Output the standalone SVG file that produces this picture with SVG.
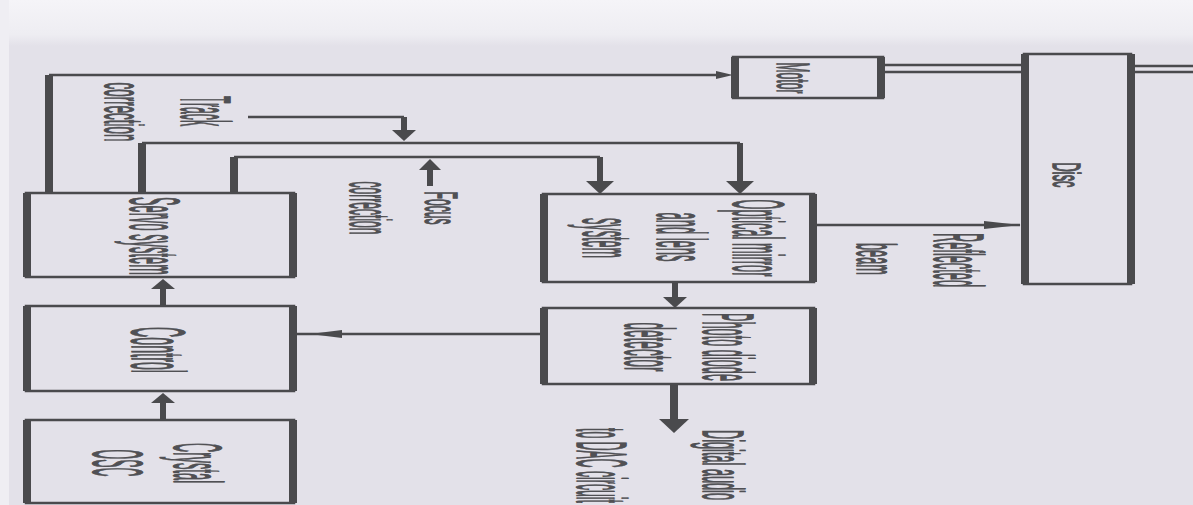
<svg xmlns="http://www.w3.org/2000/svg" width="1193" height="505" viewBox="0 0 1193 505">
<defs>
<linearGradient id="topfade" x1="0" y1="0" x2="0" y2="1">
<stop offset="0" stop-color="#f5f4f8"/>
<stop offset="0.75" stop-color="#eeedf2"/>
<stop offset="1" stop-color="#e3e1e9"/>
</linearGradient>
</defs>
<style>
.thin{stroke:#4a4a4d;stroke-width:2.5;fill:none}
.side{stroke:#4a4a4d;stroke-width:8;fill:none}
.wire{stroke:#4a4a4d;stroke-width:2.5;fill:none}
.bus{stroke:#4a4a4d;stroke-width:8;fill:none}
.shaft{stroke:#4a4a4d;stroke-width:6;fill:none}
.ah{fill:#4a4a4d}
.t{font-family:"Liberation Sans",Arial,sans-serif;fill:#505054;stroke:#505054;stroke-width:1.6}
</style>
<rect x="0" y="0" width="1193" height="505" fill="#e3e1e9"/>
<rect x="0" y="0" width="1193" height="46" fill="url(#topfade)"/>
<rect x="0" y="0" width="9" height="505" fill="#efeef3"/>

<g id="connectors">
<path class="wire" d="M49 75 H722"/>
<polygon class="ah" points="716,71 733,75 716,79"/>
<path class="bus" d="M49 75 V193"/>
<path class="bus" d="M142 143 V193"/>
<path class="wire" d="M142 143 H740"/>
<path class="shaft" d="M740 143 V182"/>
<polygon class="ah" points="726,181 754,181 740,194"/>
<path class="wire" d="M248 117 H404"/>
<path class="shaft" d="M404 117 V131"/>
<polygon class="ah" points="392,130 416,130 404,141"/>
<path class="bus" d="M234 157 V193"/>
<path class="wire" d="M234 157 H600"/>
<path class="shaft" d="M600 157 V182"/>
<polygon class="ah" points="586,181 614,181 600,194"/>
<path class="shaft" d="M430 186 V169"/>
<polygon class="ah" points="419,170 441,170 430,159"/>
<path class="wire" d="M817 225 H1020"/>
<polygon class="ah" points="984,221 1021,225 984,229"/>
<path class="wire" d="M885 65 H1021 M885 72 H1021"/>
<path class="wire" d="M1135 66 H1193 M1135 72 H1193"/>
<path class="shaft" d="M675 282 V298"/>
<polygon class="ah" points="663,297 687,297 675,308"/>
<path class="bus" d="M674 384 V421"/>
<polygon class="ah" points="659,419 689,419 674,433"/>
<path class="wire" d="M297 334 H543"/>
<polygon class="ah" points="310,334 342,330 342,338"/>
<path class="shaft" d="M163 306 V288"/>
<polygon class="ah" points="151,289 175,289 163,279"/>
<path class="shaft" d="M163 420 V402"/>
<polygon class="ah" points="151,403 175,403 163,393"/>
</g>

<g id="motor">
<rect class="thin" x="733" y="57" width="150" height="41"/>
<path class="side" d="M735 57 V98 M881 57 V98"/>
<text class="t" font-size="46" text-anchor="middle" textLength="31" lengthAdjust="spacingAndGlyphs" transform="translate(777,78) rotate(90)">Motor</text>
</g>

<g id="disc">
<rect class="thin" x="1024" y="54" width="107" height="230"/>
<path class="side" d="M1025 54 V284 M1131 54 V284"/>
<text class="t" font-size="38" text-anchor="middle" textLength="25" lengthAdjust="spacingAndGlyphs" transform="translate(1053,175) rotate(90)">Disc</text>
</g>

<g id="optical">
<rect class="thin" x="543" y="194" width="271" height="88"/>
<path class="side" d="M544 194 V282 M813 194 V282"/>
<text class="t" font-size="72" text-anchor="middle" textLength="77" lengthAdjust="spacingAndGlyphs" transform="translate(733,238) rotate(90)">Optical mirror</text>
<text class="t" font-size="70" text-anchor="middle" textLength="49" lengthAdjust="spacingAndGlyphs" transform="translate(657,237) rotate(90)">and lens</text>
<text class="t" font-size="70" text-anchor="middle" textLength="40" lengthAdjust="spacingAndGlyphs" transform="translate(583,238) rotate(90)">system</text>
</g>

<g id="photo">
<rect class="thin" x="543" y="308" width="271" height="76"/>
<path class="side" d="M544 308 V384 M813 308 V384"/>
<text class="t" font-size="72" text-anchor="middle" textLength="68" lengthAdjust="spacingAndGlyphs" transform="translate(703,347) rotate(90)">Photo diode</text>
<text class="t" font-size="70" text-anchor="middle" textLength="49" lengthAdjust="spacingAndGlyphs" transform="translate(625,347) rotate(90)">detector</text>
</g>

<g id="servo">
<rect class="thin" x="26" y="193" width="268" height="84"/>
<path class="side" d="M27 193 V277 M293 193 V277"/>
<text class="t" font-size="70" text-anchor="middle" textLength="78" lengthAdjust="spacingAndGlyphs" transform="translate(130,236) rotate(90)">Servo system</text>
</g>

<g id="control">
<rect class="thin" x="26" y="306" width="268" height="85"/>
<path class="side" d="M27 306 V391 M293 306 V391"/>
<text class="t" font-size="76" text-anchor="middle" textLength="46" lengthAdjust="spacingAndGlyphs" transform="translate(132,350) rotate(90)">Control</text>
</g>

<g id="crystal">
<rect class="thin" x="26" y="420" width="268" height="83"/>
<path class="side" d="M27 420 V503 M293 420 V503"/>
<text class="t" font-size="68" text-anchor="middle" textLength="40" lengthAdjust="spacingAndGlyphs" transform="translate(174,463) rotate(90)">Crystal</text>
<text class="t" font-size="70" text-anchor="middle" textLength="27" lengthAdjust="spacingAndGlyphs" transform="translate(93,463) rotate(90)">OSC</text>
</g>

<g id="labels">
<text class="t" font-size="70" text-anchor="middle" textLength="30" lengthAdjust="spacingAndGlyphs" transform="translate(181,111) rotate(90)">Track</text>
<text class="t" font-size="54" text-anchor="middle" textLength="59" lengthAdjust="spacingAndGlyphs" transform="translate(105,112) rotate(90)">correction</text>
<text class="t" font-size="46" text-anchor="middle" textLength="33" lengthAdjust="spacingAndGlyphs" transform="translate(425,208) rotate(90)">Focus</text>
<text class="t" font-size="58" text-anchor="middle" textLength="53" lengthAdjust="spacingAndGlyphs" transform="translate(350,208) rotate(90)">correction</text>
<text class="t" font-size="70" text-anchor="middle" textLength="54" lengthAdjust="spacingAndGlyphs" transform="translate(934,260) rotate(90)">Reflected</text>
<text class="t" font-size="55" text-anchor="middle" textLength="32" lengthAdjust="spacingAndGlyphs" transform="translate(857,259) rotate(90)">beam</text>
<text class="t" font-size="58" textLength="70" lengthAdjust="spacingAndGlyphs" transform="translate(703,430) rotate(90)">Digital audio</text>
<text class="t" font-size="70" textLength="75" lengthAdjust="spacingAndGlyphs" transform="translate(577,428) rotate(90)">to DAC circuit</text>
</g>
</svg>
